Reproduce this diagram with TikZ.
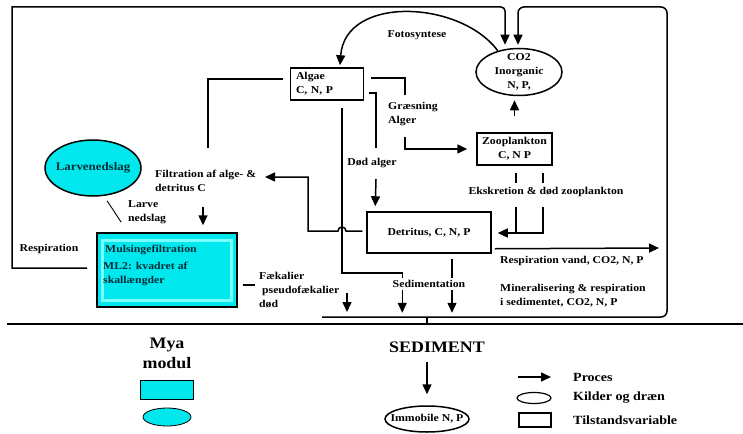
\documentclass[tikz,border=0pt]{standalone}
\usepackage{fontspec}
\setmainfont{Liberation Serif}[FakeStretch=1.12]
\usetikzlibrary{arrows.meta,shapes.geometric,calc}
\definecolor{cy}{RGB}{0,232,238}
\definecolor{cyl}{RGB}{120,255,255}
\definecolor{dtxt}{RGB}{0,45,55}
\newcommand\fsn{\fontsize{10.5}{14}\selectfont\bfseries}
\begin{document}
\begin{tikzpicture}[x=1pt,y=-1pt,
  ln/.style={line width=1.5pt},
  arr/.style={line width=1.5pt,-{Triangle[length=10pt,width=9pt]}},
  box/.style={draw,line width=1.5pt,rectangle,inner sep=0pt},
  txt/.style={font=\fsn,inner sep=0pt,align=left},
  big/.style={font=\fontsize{16}{20}\selectfont\bfseries},
  leg/.style={font=\fontsize{12.5}{14}\selectfont\bfseries},
]
\useasboundingbox (0,0) rectangle (743,433);

% ---- state variables and sources
\node[box,minimum width=73pt,minimum height=32pt,text width=62pt,align=left,font=\fsn] (algae) at (327,84) {Algae\\C, N, P};
\node[draw,ellipse,line width=1.5pt,minimum width=86pt,minimum height=47pt,inner sep=0pt,
  label={[txt,align=center]center:{CO2\\Inorganic\\N, P,}}] (co2) at (519,72) {};
\node[box,minimum width=75pt,minimum height=32pt,align=center,font=\fsn] (zoo) at (514.5,149) {Zooplankton\\C, N P};
\node[box,minimum width=124pt,minimum height=41pt,font=\fsn] (detritus) at (429,232.5) {Detritus, C, N, P};
\node[box,fill=cy,minimum width=140pt,minimum height=74pt] (mulsing) at (167,270) {};
\draw[cyl,line width=3pt] ($(mulsing.north west)+(6,8)$) rectangle ($(mulsing.south east)+(-6,-7)$);
\node[txt,anchor=west,text=dtxt] (m1) at (105,250) {Mulsingefiltration};
\node[txt,anchor=west,text=dtxt] (m2) at (103,274) {ML2: kvadret af\\skallængder};
\node[draw,ellipse,fill=cy,line width=1.5pt,minimum width=96pt,minimum height=56pt,inner sep=0pt,
  label={[txt,text=dtxt,font=\fontsize{11.5}{13}\selectfont\bfseries]center:Larvenedslag}] (larve) at (93,168) {};
\node[draw,ellipse,line width=1.5pt,minimum width=84pt,minimum height=26pt,inner sep=0pt,
  label={[txt]center:{Immobile N, P}}] (immobile) at (427,419) {};

% ---- labels
\node[txt] (foto) at (417,35) {Fotosyntese};
\node[txt,anchor=west] (graes) at (388,114) {Græsning\\Alger};
\node[txt] (dodalger) at (372,163) {Død alger};
\node[txt,anchor=west] (filt) at (155,181) {Filtration af alge- \&\\detritus C};
\node[txt,anchor=west] (larvelbl) at (128,212) {Larve\\nedslag};
\node[txt] (resp) at (49,249) {Respiration};
\node[txt,anchor=west] (faek) at (259,290) {Fækalier\\\ pseudofækalier\\død};
\node[txt] (ekskr) at (546,192) {Ekskretion \& død zooplankton};
\node[txt,anchor=west] (respv) at (500,261) {Respiration vand, CO2, N, P};
\node[txt,anchor=west] (miner) at (500,296) {Mineralisering \& respiration\\i sedimentet, CO2, N, P};
\node[txt,big] (sediment) at (437,347) {SEDIMENT};
\node[txt,big,align=center] (mya) at (167,353) {Mya\\modul};

% ---- legend
\node[draw,fill=cy,line width=0.8pt,minimum width=53pt,minimum height=19pt,inner sep=0pt] (myarect) at (166.5,389.5) {};
\node[draw,ellipse,fill=cy,line width=0.8pt,minimum width=48pt,minimum height=18pt,inner sep=0pt] (myaell) at (167,417) {};
\coordinate (la1) at (518,377);
\coordinate (la2) at (551,377);
\draw[arr] (la1) -- (la2);
\node[draw,ellipse,line width=1.2pt,minimum width=34pt,minimum height=11pt,inner sep=0pt] (lell) at (534,398) {};
\node[draw,line width=1.2pt,minimum width=32pt,minimum height=14pt,inner sep=0pt] (lrect) at (535,420) {};
\node[txt,leg,anchor=west] (lp) at (573,377) {Proces};
\node[txt,leg,anchor=west] (lk) at (573,398) {Kilder og dræn};
\node[txt,leg,anchor=west] (lt) at (573,420) {Tilstandsvariable};

% ---- sediment surface
\coordinate (sedl) at (7,324);
\coordinate (sedr) at (743,324);
\draw[line width=2.2pt] (sedl) -- (sedr);

% ---- connectors
% respiration of mussels to CO2
\coordinate (r0) at (87,268);
\draw[arr] (r0) -- (12,268) -- (12,7) [rounded corners=4pt] -- (505,7) -- ($(co2.north)+(-14,-3)$);
% mineralisation in sediment to CO2
\coordinate (m0) at (322,317);
\coordinate (m1) at (427,317);
\draw[arr,rounded corners=6pt] (m0) -- (667,317) -- (667,7) -- (518,7) -- ($(co2.north)+(-1,-3)$);
\draw[ln] (m1) -- (427,324);
% photosynthesis
\draw[arr] (co2.135) .. controls (460,0) and (345,-5) .. ($(algae.north)+(13,-2)$);
% zooplankton to CO2
\draw[arr] ($(zoo.north)+(0,-16)$) -- ($(co2.south)+(-4.5,4)$);
% grazing
\coordinate (g1) at (405,95);
\coordinate (g2) at (405,137);
\draw[ln] ($(algae.north east)+(7,11)$) -| (g1);
\draw[arr] (g2) |- ($(zoo.west)+(-9,0)$);
% dead algae
\coordinate (d1) at (376,148);
\coordinate (d2) at (376,179);
\draw[ln] ($(algae.east)+(5,9)$) -| (d1);
\draw[arr] (d2) -- ($(detritus.north west)+(9,-5)$);
% algae sedimentation
\draw[arr] ($(algae.south)+(15,7)$) -- (342,273) -| ($(detritus.south west)+(36,59)$);
% detritus to filtration (with bridge)
\coordinate (f1) at (265,177);
\draw[arr] ($(detritus.west)+(-4,-1.5)$) -- (346,231) arc[start angle=0,end angle=180,radius=4pt] -- (308,231) |- (f1);
% algae to filtration
\coordinate (f2) at (208,148);
\coordinate (f3) at (203,207);
\draw[ln] ($(algae.west)+(-7,-5)$) -| (f2);
\draw[arr] (f3) -- ($(mulsing.north)+(36,-7)$);
% larvae settlement
\draw[line width=0.9pt] ($(larve.south)+(14,4)$) -- ($(mulsing.north west)+(25,-10)$);
% faeces
\draw[ln] ($(mulsing.east)+(5,15)$) -- ++(12,0);
\coordinate (p1) at (347,293);
\draw[arr] (p1) -- (347,312);
% detritus sedimentation
\draw[arr] ($(detritus.south)+(23,5)$) -- ($(detritus.south)+(23,59)$);
% excretion
\draw[ln] ($(zoo.south)+(1.5,7)$) -- ++(0,10);
\draw[ln] ($(zoo.south)+(28.5,7)$) -- ++(0,10);
\coordinate (e1) at (516,207);
\coordinate (e2) at (543,207);
\draw[ln] (e1) -- (516,233);
\draw[arr] (e2) -- (543,233) -- ($(detritus.east)+(6,0.5)$);
% respiration water
\coordinate (rv) at (659,248);
\draw[arr] ($(detritus.south east)+(3,-5)$) -- (rv);
% sediment to immobile
\coordinate (s1) at (427,362);
\draw[arr] (s1) -- ($(immobile.north)+(0,-11)$);
% sedimentation label over the lines
\node[txt,fill=white,inner ysep=2pt,inner xsep=1pt] (sedim) at (429,284) {Sedimentation};
\end{tikzpicture}
\end{document}
